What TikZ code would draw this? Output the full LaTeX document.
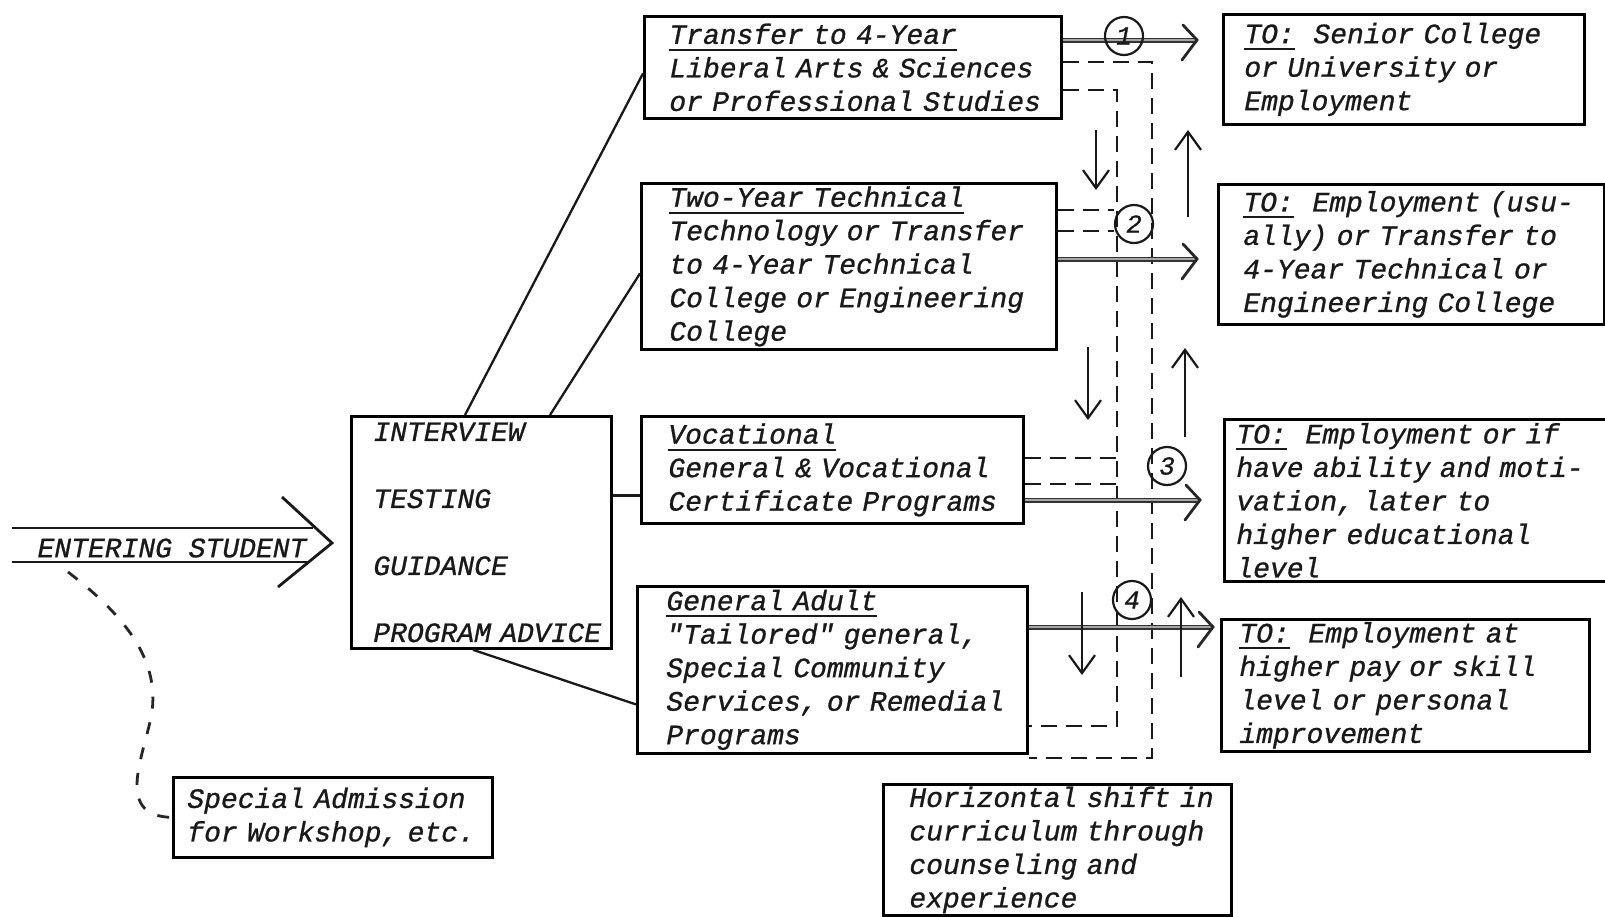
\documentclass[tikz,border=0pt]{standalone}
\usepackage{fontspec}
\newfontfamily\twfont{Liberation Mono}[FakeBold=0.9]
\usetikzlibrary{arrows.meta}
\newcommand{\ulx}[1]{\leavevmode\setbox0=\hbox{#1}\rlap{\rule[-7pt]{\wd0}{2pt}}\box0}
\begin{document}
\begin{tikzpicture}[x=1pt,y=-1pt,
  txt/.style={font=\twfont\itshape\fontsize{28}{33.5}\selectfont, text=black!90},
  box/.style={txt, draw, line width=2.8pt, anchor=north west, align=left, inner ysep=0pt},
  conn/.style={line width=2.3pt, black!90},
  dsh/.style={line width=2.6pt, black!90, dash pattern=on 16pt off 9pt},
  dcurve/.style={line width=2.8pt, black!85, dash pattern=on 12pt off 14pt},
  shaft/.style={line width=1.5pt, black!80, double=black!35, double distance=2pt},
  head/.style={line width=2.8pt, black!85, line cap=round, line join=miter},
  thinarrow/.style={line width=2.2pt, black!90, -{Straight Barb[length=18pt,width=26pt,line width=2.2pt]}},
  num/.style={circle, draw, line width=2.2pt, black!90, minimum size=38pt, inner sep=0pt, font=\twfont\itshape\fontsize{26}{26}\selectfont}
]
\fill[white] (0,0) rectangle (1605,916);
\useasboundingbox (0,0) rectangle (1605,916);

% centre box
\node[box, inner xsep=22pt, text width=216pt, minimum height=232pt] (C) at (350,415)
  {\mbox{INTERVIEW}\\[33.5pt]\mbox{TESTING}\\[33.5pt]\mbox{GUIDANCE}\\[33.5pt]\mbox{PROGRAM ADVICE}};

% programme boxes
\node[box, inner xsep=25pt, text width=367pt, minimum height=102pt] (B1) at (643,15)
  {\ulx{Transfer to 4-Year}\\\mbox{Liberal Arts \& Sciences}\\\mbox{or Professional Studies}};
\node[box, inner xsep=28pt, text width=359pt, minimum height=166pt] (B2) at (640,182)
  {\ulx{Two-Year Technical}\\\mbox{Technology or Transfer}\\\mbox{to 4-Year Technical}\\\mbox{College or Engineering}\\\mbox{College}};
\node[box, inner xsep=27pt, text width=328pt, minimum height=107pt] (B3) at (640,415)
  {\ulx{Vocational}\\\mbox{General \& Vocational}\\\mbox{Certificate Programs}};
\node[box, inner xsep=29pt, text width=332pt, minimum height=167pt] (B4) at (636,585)
  {\ulx{General Adult}\\\mbox{"Tailored" general,}\\\mbox{Special Community}\\\mbox{Services, or Remedial}\\\mbox{Programs}};

% destination boxes
\node[box, inner xsep=21pt, text width=319pt, minimum height=110pt] (R1) at (1222,13)
  {\mbox{\ulx{TO:}~~Senior College}\\\mbox{or University or}\\\mbox{Employment}};
\node[box, inner xsep=25pt, text width=336pt, minimum height=140pt] (R2) at (1217,183)
  {\mbox{\ulx{TO:}~~Employment (usu-}\\\mbox{ally) or Transfer to}\\\mbox{4-Year Technical or}\\\mbox{Engineering College}};
\node[box, inner xsep=12pt, text width=373pt, minimum height=162pt] (R3) at (1223,418)
  {\mbox{\ulx{TO:}~~Employment or if}\\\mbox{have ability and moti-}\\\mbox{vation, later to}\\\mbox{higher educational}\\\mbox{level}};
\node[box, inner xsep=18pt, text width=332pt, minimum height=132pt] (R4) at (1220,618)
  {\mbox{\ulx{TO:}~~Employment at}\\\mbox{higher pay or skill}\\\mbox{level or personal}\\\mbox{improvement}};

% other boxes
\node[box, inner xsep=14pt, text width=291pt, minimum height=80pt] (SA) at (172,776)
  {\mbox{Special Admission}\\\mbox{for Workshop, etc.}};
\node[box, inner xsep=26pt, text width=296pt, minimum height=131pt] (HS) at (882,783)
  {\mbox{Horizontal shift in}\\\mbox{curriculum through}\\\mbox{counseling and}\\\mbox{experience}};

% entering student
\node[txt, inner sep=0pt] (ES) at (172,548) {ENTERING STUDENT};
\coordinate (es1) at (12,528);  \coordinate (es2) at (313,528);
\coordinate (es3) at (12,562);  \coordinate (es4) at (310,562);
\coordinate (ch1) at (282,497); \coordinate (chT) at (332,543); \coordinate (ch2) at (278,587);
\draw[conn, line width=2.8pt] (es1) -- (es2);
\draw[conn, line width=2.8pt] (es3) -- (es4);
\draw[conn, line width=2.8pt] (ch1) -- (chT) -- (ch2);
\coordinate (esd) at (68,572);
\draw[dcurve] (esd) .. controls (120,612) and (165,660) .. (150,722)
  .. controls (140,765) and (118,816) .. (SA.west);

% connectors from centre box
\draw[conn] ([xshift=115pt]C.north west) -- ([yshift=-6pt]B1.west);
\draw[conn] ([xshift=200pt]C.north west) -- ([yshift=-7pt]B2.west);
\draw[conn] ([yshift=37pt]C.east) -- ([yshift=37pt]C.east -| B3.west);
\draw[conn] ([xshift=123pt]C.south west) -- ([yshift=-34.5pt]B4.west);

% dashed shift lines
\coordinate (r1) at (1152,62);  \coordinate (r2) at (1152,758);
\coordinate (l1) at (1117,90);  \coordinate (l2) at (1117,726);
\draw[dsh] (B1.east |- r1) -- (r1) -- (r2) -- (B4.east |- r2);
\draw[dsh] (B1.east |- l1) -- (l1) -- (l2) -- (B4.east |- l2);
\coordinate (m2a) at (1114,210); \coordinate (m2b) at (1114,231);
\draw[dsh] (B2.east |- m2a) -- (m2a);
\draw[dsh] (B2.east |- m2b) -- (m2b);
\coordinate (m3a) at (1118,458); \coordinate (m3b) at (1117,484);
\draw[dsh] (B3.east |- m3a) -- (m3a);
\draw[dsh] (B3.east |- m3b) -- (m3b);

% main arrows
\coordinate (t1) at (1197,40);
\coordinate (t2) at (1197,259);
\coordinate (t3) at (1200,500);
\coordinate (t4) at (1213,627);
\draw[shaft] (B1.east |- t1) -- (t1);
\draw[shaft] (B2.east |- t2) -- (t2);
\draw[shaft] (B3.east |- t3) -- (t3);
\draw[shaft] (B4.east |- t4) -- (t4);
\draw[head] (t1) ++(-14,-15) -- (t1) -- ++(-15,20);
\draw[head] (t2) ++(-14,-15) -- (t2) -- ++(-15,20);
\draw[head] (t3) ++(-14,-15) -- (t3) -- ++(-15,20);
\draw[head] (t4) ++(-14,-15) -- (t4) -- ++(-15,20);

% numbered circles
\node[num] (n1) at (1124,36) {1};
\node[num] (n2) at (1134,224) {2};
\node[num] (n3) at (1167,466) {3};
\node[num] (n4) at (1132,600) {4};

% vertical movement arrows
\coordinate (d1a) at (1096,130); \coordinate (d1b) at (1096,190);
\coordinate (d2a) at (1088,347); \coordinate (d2b) at (1088,420);
\coordinate (d3a) at (1082,592); \coordinate (d3b) at (1082,675);
\coordinate (u1a) at (1188,217); \coordinate (u1b) at (1188,130);
\coordinate (u2a) at (1185,437); \coordinate (u2b) at (1185,348);
\coordinate (u3a) at (1181,677); \coordinate (u3b) at (1181,597);
\draw[thinarrow] (d1a) -- (d1b);
\draw[thinarrow] (d2a) -- (d2b);
\draw[thinarrow] (d3a) -- (d3b);
\draw[thinarrow] (u1a) -- (u1b);
\draw[thinarrow] (u2a) -- (u2b);
\draw[thinarrow] (u3a) -- (u3b);
\end{tikzpicture}
\end{document}
